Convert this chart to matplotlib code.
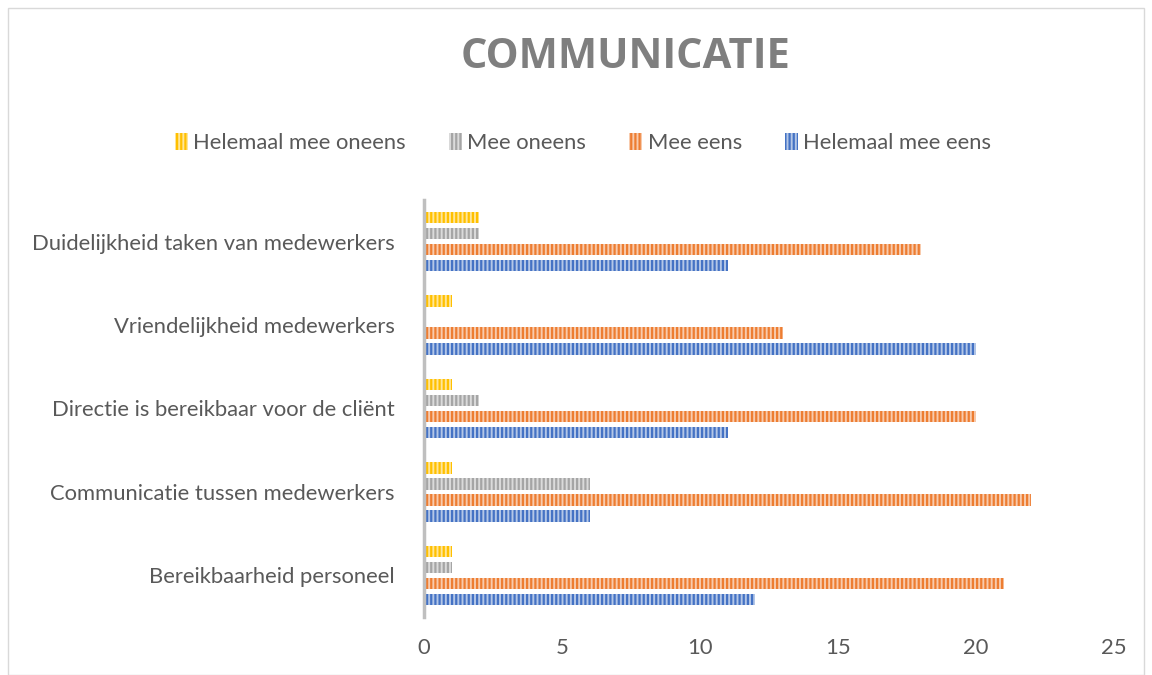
import matplotlib.pyplot as plt
import numpy as np
from matplotlib.patches import Rectangle

plt.rcParams['font.family'] = ['Lato', 'DejaVu Sans']
plt.rcParams['hatch.linewidth'] = 1.6

# categories from bottom to top
categories = ["Bereikbaarheid personeel",
              "Communicatie tussen medewerkers",
              "Directie is bereikbaar voor de cliënt",
              "Vriendelijkheid medewerkers",
              "Duidelijkheid taken van medewerkers"]
helemaal_oneens = [1, 1, 1, 1, 2]
mee_oneens = [1, 6, 2, 0, 2]
mee_eens = [21, 22, 20, 13, 18]
helemaal_eens = [12, 6, 11, 20, 11]

series = [("Helemaal mee oneens", helemaal_oneens, "#FFC000", "#FFE699"),
          ("Mee oneens", mee_oneens, "#A5A5A5", "#DBDBDB"),
          ("Mee eens", mee_eens, "#ED7D31", "#F8CBAD"),
          ("Helemaal mee eens", helemaal_eens, "#4472C4", "#B4C7E7")]

fig = plt.figure(figsize=(11.52, 6.75), dpi=100)
ax = fig.add_axes([424/1152, 1-617/675, 690/1152, 417/675])

y = np.arange(len(categories))
step = 0.192
offsets = [1.5*step, 0.5*step, -0.5*step, -1.5*step]
for (name, vals, dark, light), off in zip(series, offsets):
    ax.barh(y + off, vals, height=0.135, color=light, edgecolor=dark,
            hatch='||||', linewidth=0, label=name)

ax.set_xlim(0, 25)
ax.set_ylim(-0.5, 4.5)
ax.set_xticks([0, 5, 10, 15, 20, 25])
ax.set_yticks(y)
ax.set_yticklabels(categories)
ax.tick_params(axis='both', length=0, labelsize=15.8, colors='#595959')
ax.tick_params(axis='y', pad=21)
ax.tick_params(axis='x', pad=15)
for s in ['top', 'right', 'bottom']:
    ax.spines[s].set_visible(False)
ax.spines['left'].set_color('#BFBFBF')
ax.spines['left'].set_linewidth(2.5)

fig.text(626/1152, 1-58/675, "COMMUNICATIE", ha='center', va='center',
         fontsize=30, fontweight='bold', color='#7F7F7F',
         family=['Open Sans', 'DejaVu Sans'])

fig.legend(loc='center', bbox_to_anchor=(583/1152, 1-143/675), ncol=4,
           frameon=False, fontsize=15.8, labelcolor='#595959',
           handlelength=0.6, handleheight=0.8, handletextpad=0.25,
           columnspacing=1.95)

fig.patches.append(Rectangle((8/1152, 0), 1 - 16/1152, 1 - 8/675,
                             transform=fig.transFigure, fill=False,
                             edgecolor='#D9D9D9', linewidth=1))

fig.savefig("out.png", dpi=100)
